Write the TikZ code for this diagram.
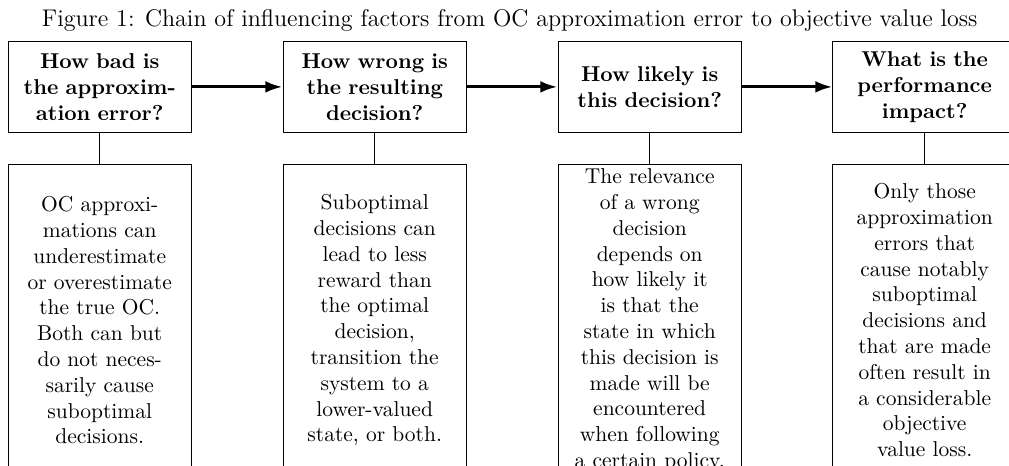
\documentclass[tikz,border=0pt]{standalone}
\usepackage{amsmath,amsfonts}
\usetikzlibrary{positioning,arrows.meta}

\begin{document}
\begin{tikzpicture}[
question/.style={draw, text width=2.6cm, inner xsep=0.2cm, minimum height=1.5cm, align=center, font=\bfseries},
answer/.style={draw, text width=2.6cm, inner xsep=0.2cm, inner ysep=1pt, minimum height=5.1cm, align=center},
chain/.style={-{Latex[length=8pt,width=5.5pt]}, line width=1.4pt}
]
\path[use as bounding box, clip] (0,0) rectangle (16.49,-7.614);
\node[anchor=base] (title) at (8.33,-0.436) {\fontsize{11.2}{13.5}\selectfont Figure 1: Chain of influencing factors from OC approximation error to objective value loss};
\node[question] (Q1) at (1.63,-1.42) {How bad is\\the approxim-\\ation error?};
\node[question, right=1.48cm of Q1] (Q2) {How wrong is\\the resulting\\decision?};
\node[question, right=1.48cm of Q2] (Q3) {How likely is\\this decision?};
\node[question, right=1.48cm of Q3] (Q4) {What is the\\performance\\impact?};
\node[answer, below=0.5cm of Q1] (E1) {OC approxi-\\mations can\\underestimate\\or overestimate\\the true OC.\\Both can but\\do not neces-\\sarily cause\\suboptimal\\decisions.};
\node[answer, below=0.5cm of Q2] (E2) {Suboptimal\\decisions can\\lead to less\\reward than\\the optimal\\decision,\\transition the\\system to a\\lower-valued\\state, or both.};
\node[answer, below=0.5cm of Q3] (E3) {The relevance\\of a wrong\\decision\\depends on\\how likely it\\is that the\\state in which\\this decision is\\made will be\\encountered\\when following\\a certain policy.};
\node[answer, below=0.5cm of Q4] (E4) {Only those\\approximation\\errors that\\cause notably\\suboptimal\\decisions and\\that are made\\often result in\\a considerable\\objective\\value loss.};
\draw [chain](Q1) -- (Q2);
\draw [chain](Q2) -- (Q3);
\draw [chain](Q3) -- (Q4);
\draw (Q1) -- (E1);
\draw (Q2) -- (E2);
\draw (Q3) -- (E3);
\draw (Q4) -- (E4);
\end{tikzpicture}
\end{document}
